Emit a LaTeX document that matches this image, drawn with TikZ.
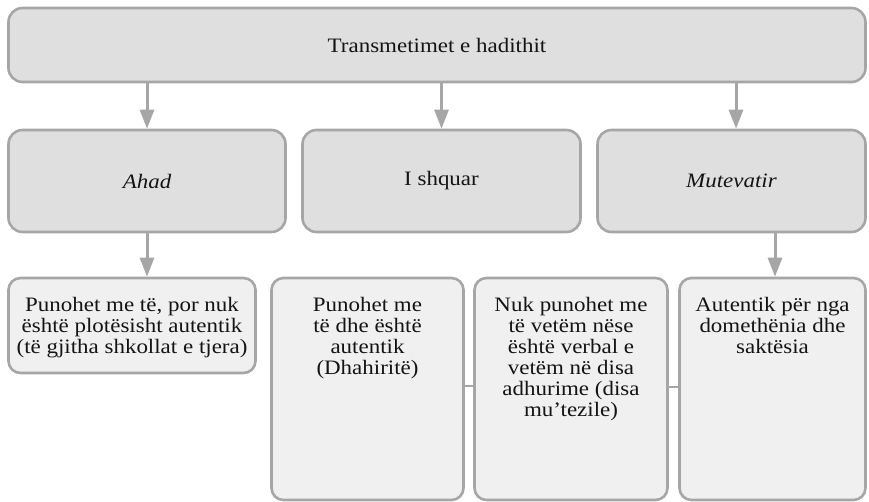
\documentclass[tikz,border=0pt]{standalone}
\usepackage{fontspec}
\setmainfont{Liberation Serif}[FakeStretch=1.12]
\usetikzlibrary{arrows.meta}
\definecolor{edgegray}{HTML}{A6A6A6}
\definecolor{headfill}{HTML}{DFDFDF}
\definecolor{leaffill}{HTML}{F0F0F0}
\definecolor{inkc}{HTML}{141414}
\tikzset{
  basebox/.style={draw=edgegray, line width=2.6pt, rounded corners=14pt, inner sep=0pt},
  headbox/.style={basebox, fill=headfill, text=inkc, font=\fontsize{20.5}{21}\selectfont},
  leafbox/.style={basebox, fill=leaffill, rounded corners=12pt},
  leaftext/.style={anchor=north, align=center, inner sep=0pt, text=inkc, font=\fontsize{20.5}{21}\selectfont},
  arr/.style={draw=edgegray, line width=3pt, -{Triangle[length=19pt,width=14pt]}},
  link/.style={draw=edgegray, line width=2.6pt}
}
\begin{document}
\begin{tikzpicture}[x=1pt,y=-1pt]
\useasboundingbox (0,0) rectangle (869,502);

% top level
\node[headbox, minimum width=857pt, minimum height=74pt] (top) at (437,45) {Transmetimet e hadithit};

% second level
\node[headbox, minimum width=277pt, minimum height=102pt] (ahad) at (147,181) {\itshape Ahad};
\node[headbox, minimum width=278pt, minimum height=102pt] (shq) at (441.5,181) {I shquar};
\node[headbox, minimum width=268pt, minimum height=102pt] (mut) at (731.5,181) {\itshape Mutevatir};

% third level boxes
\node[leafbox, minimum width=247pt, minimum height=95pt] (b1) at (132,325.5) {};
\node[leafbox, minimum width=192pt, minimum height=222pt] (b2) at (367.5,389) {};
\node[leafbox, minimum width=193pt, minimum height=222pt] (b3) at (571,389) {};
\node[leafbox, minimum width=186pt, minimum height=222pt] (b4) at (772.5,389) {};

% third level texts
\node[leaftext] (t1) at (b1.north |- 0,297) {Punohet me të, por nuk\\është plotësisht autentik\\(të gjitha shkollat e tjera)};
\node[leaftext] (t2) at (b2.north |- 0,297) {Punohet me\\të dhe është\\autentik\\(Dhahiritë)};
\node[leaftext] (t3) at (b3.north |- 0,297) {Nuk punohet me\\të vetëm nëse\\është verbal e\\vetëm në disa\\adhurime (disa\\mu’tezile)};
\node[leaftext] (t4) at (b4.north |- 0,297) {Autentik për nga\\domethënia dhe\\saktësia};

% arrows
\draw[arr] (top.south -| ahad.north) -- (ahad.north);
\draw[arr] (top.south -| shq.north) -- (shq.north);
\draw[arr] ([xshift=4.5pt]top.south -| mut.north) -- ([xshift=4.5pt]mut.north);
\draw[arr] (ahad.south) -- (ahad.south |- b1.north);
\draw[arr] ([xshift=2.5pt]b4.north |- mut.south) -- ([xshift=2.5pt]b4.north);

% side links
\draw[link] ([yshift=3pt]b2.east) -- ([yshift=3pt]b3.west);
\draw[link] ([yshift=2pt]b3.east) -- ([yshift=2pt]b4.west);
\end{tikzpicture}
\end{document}
